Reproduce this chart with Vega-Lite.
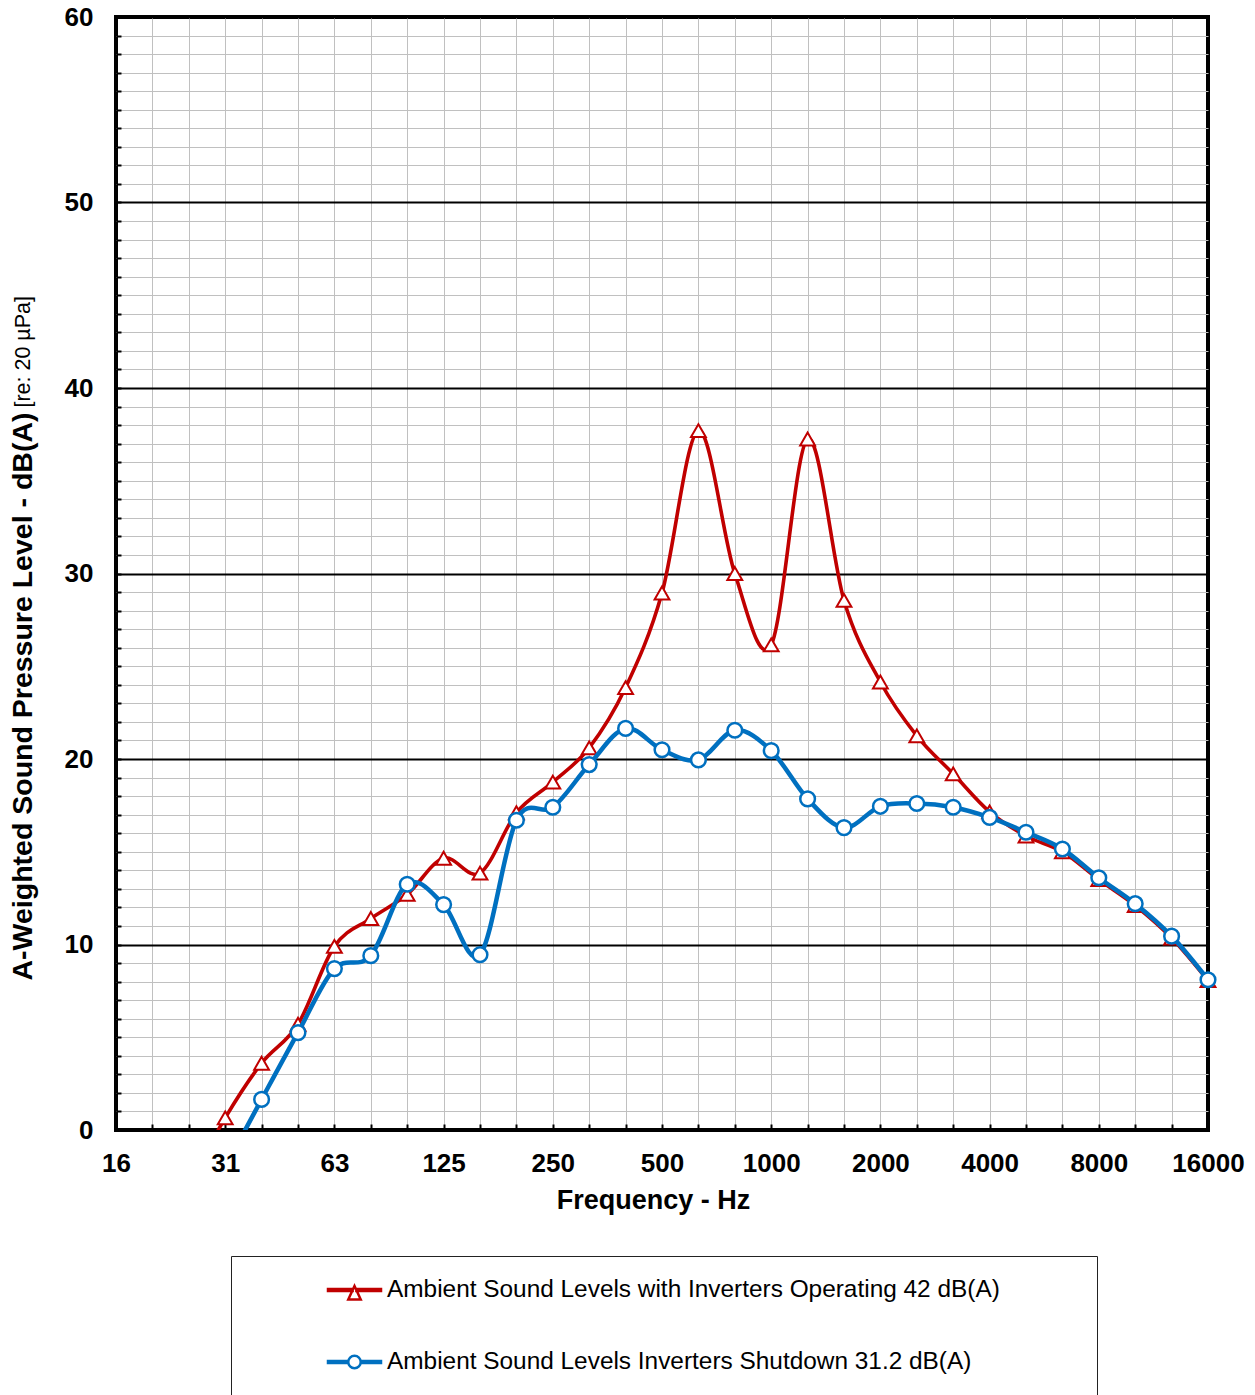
{
  "$schema": "https://vega.github.io/schema/vega-lite/v6.json",
  "width": 1092,
  "height": 1113,
  "autosize": {"type": "none"},
  "padding": {"left": 116, "top": 17, "right": 47, "bottom": 265},
  "background": "white",
  "config": {
    "font": "Liberation Sans",
    "view": {"stroke": "#000", "strokeWidth": 4},
    "axis": {"labelFont": "Liberation Sans", "titleFont": "Liberation Sans"},
    "legend": {"labelFont": "Liberation Sans"}
  },
  "title": {
    "text": "[re: 20 µPa]",
    "orient": "left",
    "anchor": "end",
    "frame": "group",
    "font": "Liberation Sans",
    "fontSize": 21.5,
    "fontWeight": "normal",
    "color": "#000",
    "offset": -26,
    "dx": -279
  },
  "datasets": {
    "spl": [
      {"hz": "25", "series": "Ambient Sound Levels with Inverters Operating 42 dB(A)", "db": -3.0},
      {"hz": "31.5", "series": "Ambient Sound Levels with Inverters Operating 42 dB(A)", "db": 0.65},
      {"hz": "40", "series": "Ambient Sound Levels with Inverters Operating 42 dB(A)", "db": 3.6},
      {"hz": "50", "series": "Ambient Sound Levels with Inverters Operating 42 dB(A)", "db": 5.7},
      {"hz": "63", "series": "Ambient Sound Levels with Inverters Operating 42 dB(A)", "db": 9.9},
      {"hz": "80", "series": "Ambient Sound Levels with Inverters Operating 42 dB(A)", "db": 11.4},
      {"hz": "100", "series": "Ambient Sound Levels with Inverters Operating 42 dB(A)", "db": 12.7},
      {"hz": "125", "series": "Ambient Sound Levels with Inverters Operating 42 dB(A)", "db": 14.65},
      {"hz": "160", "series": "Ambient Sound Levels with Inverters Operating 42 dB(A)", "db": 13.85},
      {"hz": "200", "series": "Ambient Sound Levels with Inverters Operating 42 dB(A)", "db": 17.1},
      {"hz": "250", "series": "Ambient Sound Levels with Inverters Operating 42 dB(A)", "db": 18.75},
      {"hz": "315", "series": "Ambient Sound Levels with Inverters Operating 42 dB(A)", "db": 20.6},
      {"hz": "400", "series": "Ambient Sound Levels with Inverters Operating 42 dB(A)", "db": 23.85},
      {"hz": "500", "series": "Ambient Sound Levels with Inverters Operating 42 dB(A)", "db": 28.95},
      {"hz": "630", "series": "Ambient Sound Levels with Inverters Operating 42 dB(A)", "db": 37.7},
      {"hz": "800", "series": "Ambient Sound Levels with Inverters Operating 42 dB(A)", "db": 30.0},
      {"hz": "1000", "series": "Ambient Sound Levels with Inverters Operating 42 dB(A)", "db": 26.15},
      {"hz": "1250", "series": "Ambient Sound Levels with Inverters Operating 42 dB(A)", "db": 37.25},
      {"hz": "1600", "series": "Ambient Sound Levels with Inverters Operating 42 dB(A)", "db": 28.55},
      {"hz": "2000", "series": "Ambient Sound Levels with Inverters Operating 42 dB(A)", "db": 24.15},
      {"hz": "2500", "series": "Ambient Sound Levels with Inverters Operating 42 dB(A)", "db": 21.25},
      {"hz": "3150", "series": "Ambient Sound Levels with Inverters Operating 42 dB(A)", "db": 19.2},
      {"hz": "4000", "series": "Ambient Sound Levels with Inverters Operating 42 dB(A)", "db": 17.15},
      {"hz": "5000", "series": "Ambient Sound Levels with Inverters Operating 42 dB(A)", "db": 15.85},
      {"hz": "6300", "series": "Ambient Sound Levels with Inverters Operating 42 dB(A)", "db": 15.0},
      {"hz": "8000", "series": "Ambient Sound Levels with Inverters Operating 42 dB(A)", "db": 13.5},
      {"hz": "10000", "series": "Ambient Sound Levels with Inverters Operating 42 dB(A)", "db": 12.1},
      {"hz": "12500", "series": "Ambient Sound Levels with Inverters Operating 42 dB(A)", "db": 10.35},
      {"hz": "16000", "series": "Ambient Sound Levels with Inverters Operating 42 dB(A)", "db": 8.05},
      {"hz": "31.5", "series": "Ambient Sound Levels Inverters Shutdown 31.2 dB(A)", "db": -2.0},
      {"hz": "40", "series": "Ambient Sound Levels Inverters Shutdown 31.2 dB(A)", "db": 1.65},
      {"hz": "50", "series": "Ambient Sound Levels Inverters Shutdown 31.2 dB(A)", "db": 5.25},
      {"hz": "63", "series": "Ambient Sound Levels Inverters Shutdown 31.2 dB(A)", "db": 8.7},
      {"hz": "80", "series": "Ambient Sound Levels Inverters Shutdown 31.2 dB(A)", "db": 9.4},
      {"hz": "100", "series": "Ambient Sound Levels Inverters Shutdown 31.2 dB(A)", "db": 13.25},
      {"hz": "125", "series": "Ambient Sound Levels Inverters Shutdown 31.2 dB(A)", "db": 12.15},
      {"hz": "160", "series": "Ambient Sound Levels Inverters Shutdown 31.2 dB(A)", "db": 9.45},
      {"hz": "200", "series": "Ambient Sound Levels Inverters Shutdown 31.2 dB(A)", "db": 16.7},
      {"hz": "250", "series": "Ambient Sound Levels Inverters Shutdown 31.2 dB(A)", "db": 17.4},
      {"hz": "315", "series": "Ambient Sound Levels Inverters Shutdown 31.2 dB(A)", "db": 19.7},
      {"hz": "400", "series": "Ambient Sound Levels Inverters Shutdown 31.2 dB(A)", "db": 21.65},
      {"hz": "500", "series": "Ambient Sound Levels Inverters Shutdown 31.2 dB(A)", "db": 20.5},
      {"hz": "630", "series": "Ambient Sound Levels Inverters Shutdown 31.2 dB(A)", "db": 19.95},
      {"hz": "800", "series": "Ambient Sound Levels Inverters Shutdown 31.2 dB(A)", "db": 21.55},
      {"hz": "1000", "series": "Ambient Sound Levels Inverters Shutdown 31.2 dB(A)", "db": 20.45},
      {"hz": "1250", "series": "Ambient Sound Levels Inverters Shutdown 31.2 dB(A)", "db": 17.85},
      {"hz": "1600", "series": "Ambient Sound Levels Inverters Shutdown 31.2 dB(A)", "db": 16.3},
      {"hz": "2000", "series": "Ambient Sound Levels Inverters Shutdown 31.2 dB(A)", "db": 17.45},
      {"hz": "2500", "series": "Ambient Sound Levels Inverters Shutdown 31.2 dB(A)", "db": 17.6},
      {"hz": "3150", "series": "Ambient Sound Levels Inverters Shutdown 31.2 dB(A)", "db": 17.4},
      {"hz": "4000", "series": "Ambient Sound Levels Inverters Shutdown 31.2 dB(A)", "db": 16.85},
      {"hz": "5000", "series": "Ambient Sound Levels Inverters Shutdown 31.2 dB(A)", "db": 16.05},
      {"hz": "6300", "series": "Ambient Sound Levels Inverters Shutdown 31.2 dB(A)", "db": 15.15},
      {"hz": "8000", "series": "Ambient Sound Levels Inverters Shutdown 31.2 dB(A)", "db": 13.6},
      {"hz": "10000", "series": "Ambient Sound Levels Inverters Shutdown 31.2 dB(A)", "db": 12.2},
      {"hz": "12500", "series": "Ambient Sound Levels Inverters Shutdown 31.2 dB(A)", "db": 10.45},
      {"hz": "16000", "series": "Ambient Sound Levels Inverters Shutdown 31.2 dB(A)", "db": 8.1}
    ]
  },
  "data": {"name": "spl"},
  "resolve": {"axis": {"y": "independent"}},
  "layer": [
    {
      "description": "Minor 1 dB gridlines and inside ticks",
      "mark": {"type": "point", "opacity": 0},
      "encoding": {
        "y": {
          "field": "db",
          "type": "quantitative",
          "scale": {"domain": [0, 60], "nice": false, "zero": false},
          "axis": {
            "orient": "left",
            "values": [1,2,3,4,5,6,7,8,9,11,12,13,14,15,16,17,18,19,21,22,23,24,25,26,27,28,29,31,32,33,34,35,36,37,38,39,41,42,43,44,45,46,47,48,49,51,52,53,54,55,56,57,58,59],
            "labels": false,
            "domain": false,
            "title": null,
            "grid": true,
            "gridColor": "#C0C0C0",
            "gridWidth": 1,
            "ticks": true,
            "tickSize": -5,
            "tickWidth": 2,
            "tickColor": "#000"
          }
        }
      }
    },
    {
      "encoding": {
        "x": {
          "field": "hz",
          "type": "ordinal",
          "scale": {
            "type": "point",
            "padding": 0,
            "domain": ["16","20","25","31.5","40","50","63","80","100","125","160","200","250","315","400","500","630","800","1000","1250","1600","2000","2500","3150","4000","5000","6300","8000","10000","12500","16000"]
          },
          "axis": {
            "title": "Frequency - Hz",
            "titleFontSize": 27,
            "titleFontWeight": "bold",
            "titleColor": "#000",
            "titleX": 537,
            "titleY": 78,
            "titleBaseline": "alphabetic",
            "labelExpr": "indexof(['16','31.5','63','125','250','500','1000','2000','4000','8000','16000'], datum.value) >= 0 ? (datum.value == '31.5' ? '31' : datum.label) : ''",
            "labelFontSize": 26,
            "labelFontWeight": "bold",
            "labelColor": "#000",
            "labelAngle": 0,
            "labelPadding": 26,
            "labelOverlap": false,
            "labelFlush": false,
            "domain": false,
            "ticks": true,
            "tickSize": -6,
            "tickWidth": 2,
            "tickColor": "#000",
            "grid": true,
            "gridColor": "#C0C0C0",
            "gridWidth": 1,
            "gridOpacity": {"condition": {"test": "datum.value == '16' || datum.value == '16000'", "value": 0}, "value": 1}
          }
        },
        "y": {
          "field": "db",
          "type": "quantitative",
          "scale": {"domain": [0, 60], "nice": false, "zero": false},
          "axis": {
            "orient": "left",
            "values": [0, 10, 20, 30, 40, 50, 60],
            "title": "A-Weighted Sound Pressure Level - dB(A)",
            "titleFontSize": 28.5,
            "titleFontWeight": "bold",
            "titleColor": "#000",
            "titleAngle": -90,
            "titleX": -94,
            "titleY": 679,
            "titleAlign": "center",
            "titleBaseline": "middle",
            "labelFontSize": 26,
            "labelFontWeight": "bold",
            "labelColor": "#000",
            "labelPadding": 28,
            "labelFlush": false,
            "domain": false,
            "ticks": true,
            "tickSize": -5,
            "tickWidth": 2,
            "tickColor": "#000",
            "grid": true,
            "gridColor": "#000",
            "gridWidth": 2
          }
        }
      },
      "layer": [
        {
          "transform": [{"filter": "datum.series == 'Ambient Sound Levels with Inverters Operating 42 dB(A)'"}],
          "mark": {"type": "line", "interpolate": "cardinal", "strokeWidth": 3.6, "clip": true},
          "encoding": {
            "color": {
              "field": "series",
              "type": "nominal",
              "scale": {
                "domain": ["Ambient Sound Levels with Inverters Operating 42 dB(A)", "Ambient Sound Levels Inverters Shutdown 31.2 dB(A)"],
                "range": ["#C00000", "#0070C0"]
              },
              "legend": {
                "orient": "none",
                "legendX": 115,
                "legendY": 1239,
                "direction": "vertical",
                "title": null,
                "strokeColor": "#222",
                "fillColor": "#fff",
                "padding": 6,
                "symbolSize": 2809,
                "symbolStrokeWidth": 2.5,
                "symbolOffset": 89.5,
                "labelOffset": 4.5,
                "labelFontSize": 24.4,
                "labelColor": "#000",
                "labelLimit": 3000,
                "rowPadding": 29,
                "encode": {
                  "symbols": {
                    "update": {
                      "shape": {"signal": "indexof(datum.value, 'Operating') >= 0 ? 'M-1,-0.035L-0.07,-0.035L-0.07,0.035L-1,0.035Z M0.07,-0.035L1,-0.035L1,0.035L0.07,0.035Z M0,-0.15L-0.235,0.36L0.235,0.36Z M27.6,0' : 'M-1,-0.04L-0.235,-0.04L-0.235,0.04L-1,0.04Z M0.235,-0.04L1,-0.04L1,0.04L0.235,0.04Z M0.235,0A0.235,0.235 0 1,1 -0.235,0A0.235,0.235 0 1,1 0.235,0Z M27.6,1.6'"},
                      "fill": {"value": "#fff"},
                      "fillOpacity": {"value": 1},
                      "strokeWidth": {"value": 2.5}
                    }
                  }
                }
              }
            }
          }
        },
        {
          "transform": [{"filter": "datum.series == 'Ambient Sound Levels with Inverters Operating 42 dB(A)' && datum.db >= 0"}],
          "mark": {"type": "point", "shape": "triangle-up", "filled": true, "fill": "#fff", "stroke": "#C00000", "strokeWidth": 2, "size": 220, "opacity": 1}
        },
        {
          "transform": [{"filter": "datum.series == 'Ambient Sound Levels Inverters Shutdown 31.2 dB(A)'"}],
          "mark": {"type": "line", "interpolate": "cardinal", "strokeWidth": 4.5, "clip": true},
          "encoding": {
            "color": {"field": "series", "type": "nominal"}
          }
        },
        {
          "transform": [{"filter": "datum.series == 'Ambient Sound Levels Inverters Shutdown 31.2 dB(A)' && datum.db >= 0"}],
          "mark": {"type": "point", "shape": "circle", "filled": true, "fill": "#fff", "stroke": "#0070C0", "strokeWidth": 2.5, "size": 215, "opacity": 1}
        }
      ]
    }
  ]
}
